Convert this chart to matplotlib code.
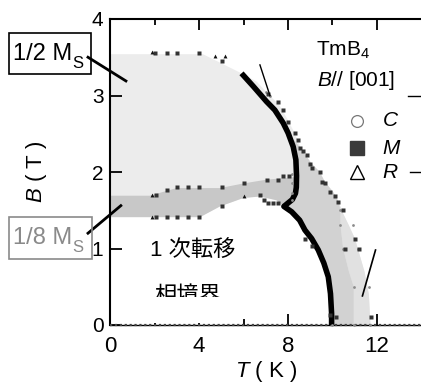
import numpy as np
import matplotlib
matplotlib.use('Agg')
import matplotlib.pyplot as plt
from matplotlib.patches import Rectangle
from matplotlib.lines import Line2D

plt.rcParams['font.family'] = ['Liberation Sans', 'Noto Sans CJK JP', 'DejaVu Sans']
plt.rcParams['mathtext.fontset'] = 'custom'
plt.rcParams['mathtext.rm'] = 'Liberation Sans'
plt.rcParams['mathtext.it'] = 'Liberation Sans:italic'

# ---------------- data ----------------
# thick black phase boundary (T, B)
bc_T = [5.91, 6.44, 7.04, 7.41, 7.79, 8.01, 8.24, 8.36, 8.39, 8.38, 8.34, 8.20, 7.82,
        8.17, 8.53, 8.77, 9.07, 9.37, 9.62, 9.82, 9.92, 9.97, 9.97]
bc_B = [3.29, 3.12, 2.92, 2.81, 2.64, 2.51, 2.33, 2.16, 1.95, 1.80, 1.72, 1.64, 1.55,
        1.48, 1.37, 1.24, 1.13, 0.98, 0.81, 0.63, 0.41, 0.15, 0.0]
# 1/2 Ms upper boundary
top_T = [0.0, 0.0, 4.17]
top_B = [1.41, 3.54, 3.54]
# outer boundary (right side)
outer_T = [5.91, 6.6, 7.11, 7.6, 8.0, 8.32, 8.6, 9.07, 9.44, 9.67, 10.04, 10.27,
           10.45, 10.75, 11.02, 11.2, 11.45, 11.65, 11.72]
outer_B = [3.29, 3.18, 3.02, 2.88, 2.68, 2.50, 2.30, 2.11, 2.0, 1.87, 1.74, 1.62,
           1.48, 1.30, 1.13, 0.95, 0.70, 0.40, 0.0]
# middle boundary (small circles line)
mid_T = [8.28, 8.6, 9.07, 9.44, 9.67, 10.04, 10.27, 10.37, 10.37, 10.49, 10.75, 10.97, 10.97]
mid_B = [2.42, 2.3, 2.11, 2.0, 1.87, 1.74, 1.62, 1.5, 1.31, 1.0, 0.7, 0.5, 0.0]
# 1/8 Ms band
band_top_T = [0.0, 1.78, 2.98, 4.94, 5.99, 7.04, 8.24, 8.39]
band_top_B = [1.69, 1.69, 1.79, 1.79, 1.85, 1.90, 1.93, 1.95]
band_bot_T = [7.82, 7.49, 6.74, 5.99, 4.94, 4.04, 0.0]
band_bot_B = [1.55, 1.63, 1.68, 1.66, 1.55, 1.41, 1.41]

# markers: M (squares)
M_T = [2.0, 2.53, 3.02, 4.0, 5.01, 7.11, 7.56, 7.79, 8.01, 8.32, 8.46, 8.54, 8.66, 8.84,
       8.99, 9.07, 9.44, 9.52, 9.67, 9.89, 10.12, 10.27, 10.49, 11.02, 10.57, 11.21,
       11.74, 10.16, 9.92, 8.77, 9.07,
       2.05, 2.53, 3.01, 3.51, 4.0, 5.01, 6.02, 7.04, 7.56, 7.76, 8.06,
       2.05, 2.53, 3.01, 3.51, 4.0, 5.01, 6.74, 6.92, 7.11, 7.34, 7.56]
M_B = [3.55, 3.55, 3.55, 3.55, 3.45, 3.02, 2.92, 2.81, 2.66, 2.51, 2.42, 2.31, 2.27, 2.22,
       2.11, 2.05, 2.0, 1.87, 1.85, 1.74, 1.68, 1.61, 1.5, 1.13, 1.0, 1.0,
       0.11, 0.11, 0.13, 1.12, 1.03,
       1.70, 1.76, 1.81, 1.81, 1.81, 1.81, 1.85, 1.90, 1.90, 1.95, 1.95,
       1.41, 1.41, 1.41, 1.41, 1.41, 1.55, 1.70, 1.64, 1.60, 1.60, 1.60]
# R (triangles)
R_T = [1.86, 4.71, 5.16, 1.86, 1.86, 6.02]
R_B = [3.57, 3.52, 3.52, 1.70, 1.41, 1.68]
# C (circles)
C_T = [10.37, 10.37, 10.94, 10.49, 11.17, 10.97, 11.66, 9.97, 10.97, 11.69,
       8.17, 8.17, 8.17, 8.17, 7.0, 7.2]
C_B = [1.50, 1.31, 1.31, 1.0, 1.0, 0.5, 0.5, 0.0, 0.0, 0.0,
       1.98, 1.85, 1.72, 1.63, 3.05, 3.0]

x_ticks = [0, 4, 8, 12]
y_ticks = [0, 1, 2, 3, 4]

# ---------------- figure ----------------
W, H = 421, 386
fig = plt.figure(figsize=(W / 100, H / 100), dpi=100)
ax = fig.add_axes([110.4 / W, (H - 325) / H, (W - 110.4) / W, 306 / H])
ax.set_xlim(0, 14)
ax.set_ylim(0, 4)


def px(X, Y):
    return (X / W, 1 - Y / H)


bcT = np.array(bc_T); bcB = np.array(bc_B)
k = 12  # kink index
# light upper region
lx = np.concatenate([top_T, outer_T, bcT[k:][::-1], band_bot_T])
ly = np.concatenate([top_B, outer_B, bcB[k:][::-1], band_bot_B])
ax.fill(lx, ly, color='#ececec', lw=0, zorder=1)
# outer light band
ox = np.concatenate([outer_T[11:], mid_T[6:][::-1]])
oy = np.concatenate([outer_B[11:], mid_B[6:][::-1]])
ax.fill(ox, oy, color='#e1e1e1', lw=0, zorder=1.2)
# medium right band
mx = np.concatenate([mid_T, bcT[6:][::-1]])
my = np.concatenate([mid_B, bcB[6:][::-1]])
ax.fill(mx, my, color='#d2d2d2', lw=0, zorder=1.3)
# 1/8 band
bx = np.concatenate([band_top_T, bcT[9:k], band_bot_T])
by = np.concatenate([band_top_B, bcB[9:k], band_bot_B])
ax.fill(bx, by, color='#c8c8c8', lw=0, zorder=1.4)

ax.plot(bc_T, bc_B, color='black', lw=4.0, solid_capstyle='butt', zorder=4)

ax.plot(C_T, C_B, ls='none', marker='o', ms=2.0, color='#8c8c8c', mec='none', zorder=5, clip_on=False)
ax.plot(M_T, M_B, ls='none', marker='s', ms=2.8, color='#333333', mec='none', zorder=5, clip_on=False)
ax.plot(R_T, R_B, ls='none', marker='^', ms=2.8, color='#111111', mec='none', zorder=5, clip_on=False)

# pointer lines in plot
ax.plot([6.74, 7.19], [3.40, 3.0], color='black', lw=1.0, zorder=6)
ax.plot([11.95, 11.36], [0.98, 0.38], color='black', lw=1.2, zorder=6)

# dotted line along bottom
ax.plot([0, 14], [0.0, 0.0], color='#444444', lw=1.6, ls=(0, (1, 1.2)), zorder=3, clip_on=False)

# axes styling
for s in ['left', 'bottom', 'top']:
    ax.spines[s].set_linewidth(1.5)
ax.spines['right'].set_visible(False)
ax.spines['bottom'].set_linewidth(1.0)
ax.set_xticks(x_ticks)
ax.set_xticks([2, 6, 10], minor=True)
ax.set_yticks(y_ticks)
ax.tick_params(axis='x', which='major', direction='in', length=8, width=1.3, top=True,
               labelsize=16, pad=8)
ax.tick_params(axis='x', which='minor', direction='in', length=4.5, width=1.3, top=True)
ax.tick_params(axis='y', which='major', direction='in', length=8.5, width=1.3,
               labelsize=15, pad=5, right=False)
ax.set_xticklabels([str(v) for v in x_ticks])
ax.set_yticklabels([str(v) for v in y_ticks])

ax.set_xlabel('$T$ ( K )', fontsize=16, labelpad=1)
ax.yaxis.set_label_coords(-61 / (W - 110.4) - 0.0, (325 - 176) / 306)
ax.set_ylabel('$B$ ( T )', fontsize=16)

# texts
ax.text(1.78, 0.98, '1 次転移', fontsize=16, va='center', ha='left', zorder=7)
ax.text(2.0, 0.38, '相境界', fontsize=16, va='center', ha='left', zorder=7)
# the lower part of this label is hidden in the original
ax.add_patch(Rectangle((1.8, 0.03), 4.0, 0.336, facecolor='white', edgecolor='none', zorder=7.5))

fig.text(*px(316, 56), 'TmB$_4$', fontsize=15, ha='left', va='baseline')
fig.text(*px(317, 86), '$B$// [001]', fontsize=15, ha='left', va='baseline')
fig.add_artist(Line2D([408 / W, 1.0], [1 - 96 / H] * 2, color='black', lw=1.0))

# legend
fig.add_artist(Line2D([px(357, 121)[0]], [px(357, 121)[1]], marker='o', ms=8.5, mfc='white',
                      mec='#777777', mew=0.9, ls='none'))
fig.add_artist(Line2D([px(357, 148)[0]], [px(357, 148)[1]], marker='s', ms=9.5, mfc='#3a3a3a',
                      mec='#3a3a3a', ls='none'))
fig.add_artist(Line2D([px(357, 172)[0]], [px(357, 172)[1]], marker='^', ms=9.5, mfc='white',
                      mec='black', mew=1.0, ls='none'))
for Y, lab in [(121, 'C'), (148, 'M'), (172, 'R')]:
    fig.text(*px(382, Y), '$' + lab + '$', fontsize=15, ha='left', va='center')
fig.add_artist(Line2D([410 / W, 1.0], [1 - 172 / H] * 2, color='black', lw=1.0))

# boxes
fig.add_artist(Rectangle(px(9, 74), 82 / W, 41 / H, fill=False, ec='black', lw=1.2,
                         transform=fig.transFigure))
fig.text(*px(13, 59.5), '1/2 M', fontsize=17, ha='left', va='baseline')
fig.text(*px(72, 68.5), 'S', fontsize=12, ha='left', va='baseline')
fig.add_artist(Rectangle(px(9, 259), 83 / W, 42 / H, fill=False, ec='#8a8a8a', lw=1.2,
                         transform=fig.transFigure))
fig.text(*px(13, 243.5), '1/8 M', fontsize=17, ha='left', va='baseline', color='#8a8a8a')
fig.text(*px(72, 252.5), 'S', fontsize=12, ha='left', va='baseline', color='#8a8a8a')
# leader lines
ax.plot([-1.01, 0.70], [3.50, 3.19], color='black', lw=2.0, clip_on=False, zorder=8)
ax.plot([-1.01, 0.47], [1.20, 1.56], color='black', lw=2.0, clip_on=False, zorder=8)

fig.savefig('out.png', dpi=100)
